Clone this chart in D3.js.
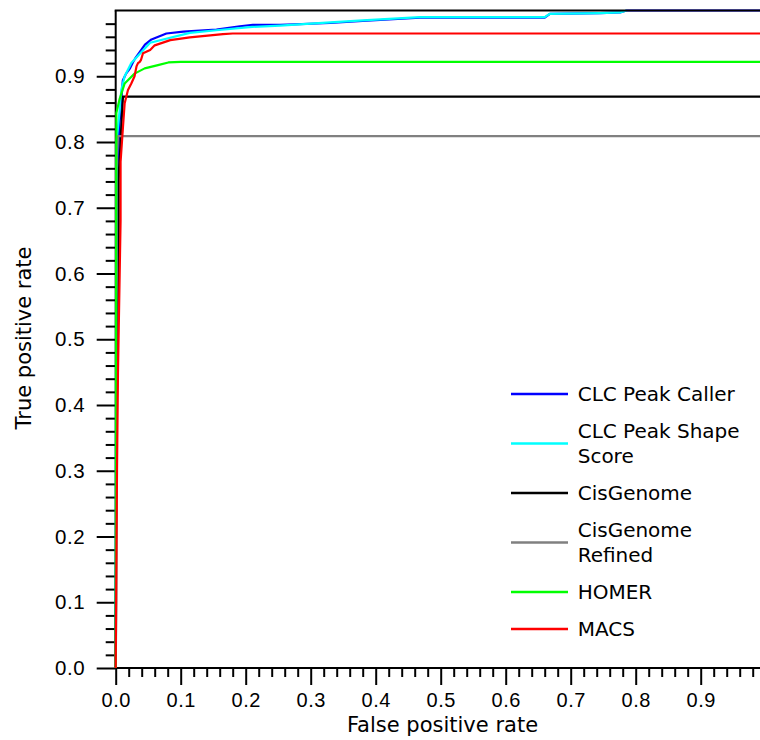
<!DOCTYPE html>
<html>
<head>
<meta charset="utf-8">
<script src="https://cdn.jsdelivr.net/npm/d3@7"></script>
<style>
    body { margin: 0; background: #fff; }
    svg { display: block; font-family: "DejaVu Sans", sans-serif; }
</style>
</head>
<body>
<div id="chartContainer"></div>
<script>
// ROC curves: false positive rate / true positive rate
const seriesNames = ["CLC Peak Caller", "CLC Peak Shape Score", "CisGenome", "CisGenome Refined", "HOMER", "MACS"];
const seriesColors = ["#0000ff", "#00ffff", "#000000", "#808080", "#00ff00", "#ff0000"];

const clcCallerFpr = [0, 0.0005, 0.001, 0.002, 0.006, 0.011, 0.016, 0.022, 0.027, 0.030, 0.045, 0.055, 0.078, 0.104, 0.155, 0.191, 0.211, 0.253, 0.33, 0.38, 0.468, 0.535, 0.66, 0.668, 0.745, 0.776, 0.786, 1];
const clcCallerTpr = [0, 0.3, 0.6, 0.75, 0.83, 0.894, 0.904, 0.912, 0.922, 0.927, 0.948, 0.956, 0.965, 0.968, 0.971, 0.976, 0.978, 0.978, 0.981, 0.984, 0.989, 0.989, 0.989, 0.995, 0.996, 0.997, 1, 1];

const clcShapeFpr = [0, 0.0005, 0.001, 0.0015, 0.0062, 0.0086, 0.0138, 0.024, 0.053, 0.114, 0.155, 0.21, 0.253, 0.33, 0.38, 0.468, 0.535, 0.66, 0.668, 0.745, 0.776, 0.786];
const clcShapeTpr = [0, 0.4, 0.7, 0.803, 0.849, 0.879, 0.9, 0.92, 0.951, 0.966, 0.970, 0.975, 0.977, 0.982, 0.985, 0.990, 0.990, 0.990, 0.995, 0.996, 0.997, 1];

const cisFpr = [0, 0.001, 0.0025, 0.0046, 0.0046, 0.005, 0.0066, 0.0086, 0.0112, 1];
const cisTpr = [0, 0.3, 0.5, 0.6, 0.74, 0.757, 0.783, 0.823, 0.869, 0.869];

const cisRefinedFpr = [0, 0.001, 0.0012, 0.0035, 1];
const cisRefinedTpr = [0, 0.1, 0.76, 0.809, 0.809];

const homerFpr = [0, 0.0005, 0.001, 0.0062, 0.0138, 0.029, 0.0446, 0.065, 0.081, 0.1, 1];
const homerTpr = [0, 0.5, 0.844, 0.866, 0.889, 0.904, 0.912, 0.917, 0.921, 0.922, 0.922];

const macsFpr = [0, 0.002, 0.0035, 0.0075, 0.0075, 0.0112, 0.0138, 0.0189, 0.024, 0.029, 0.032, 0.0343, 0.037, 0.039, 0.042, 0.053, 0.06, 0.084, 0.114, 0.165, 0.18, 1];
const macsTpr = [0, 0.3, 0.45, 0.68, 0.77, 0.823, 0.859, 0.879, 0.889, 0.9, 0.915, 0.92, 0.922, 0.925, 0.935, 0.94, 0.947, 0.955, 0.959, 0.964, 0.965, 0.965];

const fprSets = [clcCallerFpr, clcShapeFpr, cisFpr, cisRefinedFpr, homerFpr, macsFpr];
const tprSets = [clcCallerTpr, clcShapeTpr, cisTpr, cisRefinedTpr, homerTpr, macsTpr];

const majorTicks = [0, 0.1, 0.2, 0.3, 0.4, 0.5, 0.6, 0.7, 0.8, 0.9];
const legendLines = [["CLC Peak Caller"], ["CLC Peak Shape", "Score"], ["CisGenome"], ["CisGenome", "Refined"], ["HOMER"], ["MACS"]];

function init() {
    const width = 760, height = 740;

    const svg = d3.select("#chartContainer").append("svg")
        .attr("width", width)
        .attr("height", height);

    const x = d3.scaleLinear().domain([0, 1]).range([115.7, 765.7]);
    const y = d3.scaleLinear().domain([0, 1]).range([668, 10.5]);

    const minorTicks = d3.range(0, 51).map(i => i * 0.02).filter(v => Math.round(v * 50) % 5 !== 0);

    // minor ticks
    svg.append("g")
        .attr("transform", `translate(0, ${y(0)})`)
        .call(d3.axisBottom(x).tickValues(minorTicks).tickSize(9).tickFormat(""))
        .call(g => g.select(".domain").remove())
        .selectAll("line").attr("stroke-width", 2);

    svg.append("g")
        .attr("transform", `translate(${x(0)}, 0)`)
        .call(d3.axisLeft(y).tickValues(minorTicks).tickSize(10).tickFormat(""))
        .call(g => g.select(".domain").remove())
        .selectAll("line").attr("stroke-width", 2);

    // major ticks + labels
    const xAxis = svg.append("g")
        .attr("transform", `translate(0, ${y(0)})`)
        .call(d3.axisBottom(x).tickValues(majorTicks).tickSize(17).tickPadding(7.8).tickFormat(d3.format(".1f")))
        .call(g => g.select(".domain").remove());
    xAxis.selectAll("line").attr("stroke-width", 2);
    xAxis.selectAll("text").attr("fill", "#000").style("font-size", "20px").style("letter-spacing", "0.6px");

    const yAxis = svg.append("g")
        .attr("transform", `translate(${x(0)}, 0)`)
        .call(d3.axisLeft(y).tickValues(majorTicks).tickSize(19).tickPadding(11.5).tickFormat(d3.format(".1f")))
        .call(g => g.select(".domain").remove());
    yAxis.selectAll("line").attr("stroke-width", 2);
    yAxis.selectAll("text").attr("fill", "#000").style("font-size", "20.5px").style("letter-spacing", "0.6px");

    // axis frame lines
    svg.append("line")
        .attr("x1", x(0)).attr("x2", width)
        .attr("y1", y(0)).attr("y2", y(0))
        .attr("stroke", "#000").attr("stroke-width", 2);
    svg.append("line")
        .attr("x1", x(0)).attr("x2", x(0))
        .attr("y1", y(0)).attr("y2", y(1))
        .attr("stroke", "#000").attr("stroke-width", 2);

    // curves
    const line = d3.line()
        .x(d => x(d[0]))
        .y(d => y(d[1]));

    seriesNames.forEach((name, i) => {
        const pts = fprSets[i].map((f, j) => [f, tprSets[i][j]]);
        svg.append("path")
            .datum(pts)
            .attr("d", line)
            .attr("fill", "none")
            .attr("stroke", seriesColors[i])
            .attr("stroke-width", 2.2)
            .attr("stroke-linejoin", "round");
    });

    // top border
    svg.append("line")
        .attr("x1", x(0) - 1).attr("x2", width)
        .attr("y1", y(1)).attr("y2", y(1))
        .attr("stroke", "#000").attr("stroke-width", 2);

    // axis titles
    svg.append("text")
        .attr("x", 442.5)
        .attr("y", 732)
        .attr("text-anchor", "middle")
        .style("font-size", "21px")
        .text("False positive rate");

    svg.append("text")
        .attr("transform", "translate(31, 338) rotate(-90)")
        .attr("text-anchor", "middle")
        .style("font-size", "21px")
        .text("True positive rate");

    // legend
    const legend = svg.append("g");
    const lineH = 25, pad = 12;
    let top = 394 - (lineH + pad) / 2;
    legendLines.forEach((lines, i) => {
        const h = lines.length * lineH + pad;
        const cy = top + h / 2;
        legend.append("line")
            .attr("x1", 511).attr("x2", 568)
            .attr("y1", cy).attr("y2", cy)
            .attr("stroke", seriesColors[i])
            .attr("stroke-width", 2.7);
        const t = legend.append("text")
            .attr("x", 577.7)
            .style("font-size", "20px");
        lines.forEach((s, k) => {
            t.append("tspan")
                .attr("x", 577.7)
                .attr("y", cy - (lines.length - 1) * lineH / 2 + k * lineH + 7.3)
                .text(s);
        });
        top += h;
    });
}
window.onload = init;
</script>
</body>
</html>
